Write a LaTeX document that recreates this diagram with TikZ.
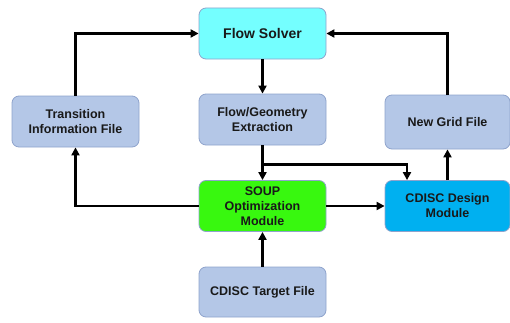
\documentclass[tikz,border=0pt]{standalone}
\usepackage{fontspec}
\setmainfont{Liberation Sans}
\usetikzlibrary{arrows.meta}
\definecolor{boxgray}{HTML}{B4C7E7}
\definecolor{boxedge}{HTML}{8FA3CC}
\definecolor{solvercyan}{HTML}{74FFFF}
\definecolor{soupgreen}{HTML}{38F80F}
\definecolor{cdiscblue}{HTML}{00B0F0}
\begin{document}
\begin{tikzpicture}[x=1pt,y=1pt,
  blk/.style={draw=boxedge, line width=0.8pt, rounded corners=7pt, fill=boxgray,
    minimum width=127pt, minimum height=51pt, align=center, inner sep=2pt,
    font=\fontsize{12.5}{15}\selectfont\bfseries, text=black!90},
  arr/.style={line width=2.4pt, -{Triangle[length=8pt,width=8pt]}, black}]
\useasboundingbox (0,0) rectangle (510,322);
\node[blk, fill=solvercyan, font=\fontsize{14}{16}\selectfont\bfseries] (fs) at (262.5,288.5) {Flow Solver};
\node[blk] (ti) at (75.5,200.5) {Transition\\Information File};
\node[blk] (fg) at (262.5,202.5) {Flow/Geometry\\Extraction};
\node[blk, minimum width=125pt, minimum height=54pt] (ng) at (447.5,200) {New Grid File};
\node[blk, fill=soupgreen] (soup) at (262.5,116) {SOUP\\Optimization\\Module};
\node[blk, fill=cdiscblue, minimum width=125pt] (cd) at (447.5,116) {CDISC Design\\Module};
\node[blk, minimum height=50pt] (tf) at (262.5,30) {CDISC Target File};
\draw[arr] (ti.north) |- (fs.west);
\draw[arr] (ng.north) |- (fs.east);
\draw[arr] (fs.south) -- (fg.north);
\draw[arr] (fg.south) -- (soup.north);
\coordinate (br) at ([yshift=-19pt]fg.south);
\draw[arr] (br) -| ([xshift=-40.5pt]cd.north);
\draw[arr] (soup.west) -| (ti.south);
\draw[arr] (soup.east) -- (cd.west);
\draw[arr] (cd.north) -- (ng.south);
\draw[arr] (tf.north) -- (soup.south);
\end{tikzpicture}
\end{document}
